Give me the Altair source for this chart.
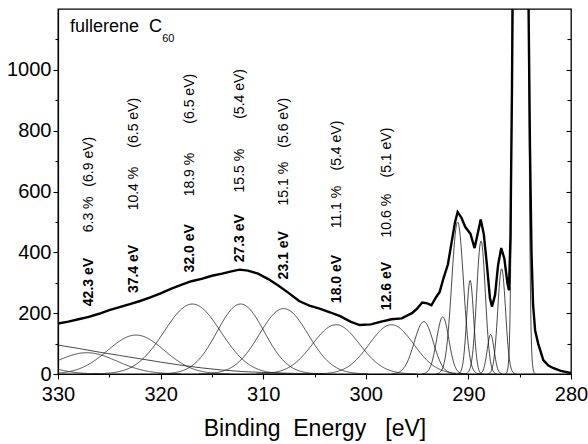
import altair as alt
import numpy as np
import pandas as pd

# ---- measured spectrum (binding energy [eV], counts) ----
spec_be = [330, 329, 328, 327, 326, 325, 324, 323, 322, 321, 320, 319, 318, 317, 316,
           315, 314, 313, 312.3, 311.5, 310.5, 309.5, 308.5, 307.5, 306.5, 305.5, 304.5,
           303.5, 302.5, 301.5, 300.6, 299.5, 298.5, 297.5, 296.5, 295.5, 295.0, 294.5,
           294.0, 293.6, 293.2, 292.8, 292.4, 292.0, 291.6, 291.3, 291.05, 290.7, 290.3,
           289.8, 289.4, 289.1, 288.8, 288.5, 288.2, 287.9, 287.7, 287.4, 287.1, 286.8,
           286.5, 286.2, 286.05, 285.9, 285.75, 285.65, 285.0, 284.3, 284.15, 284.0,
           283.85, 283.7, 283.5, 283.2, 282.7, 282.2, 281.7, 281.0, 280.0]
spec_counts = [166, 172, 180, 188, 198, 210, 220, 230, 240, 252, 265, 280, 293, 305, 313,
               323, 330, 338, 343, 340, 330, 312, 290, 266, 240, 225, 215,
               203, 190, 172, 161, 163, 172, 180, 183, 200, 215, 235,
               232, 226, 250, 270, 318, 360, 440, 500, 532, 515, 483,
               461, 414, 460, 508, 460, 360, 250, 221, 260, 360, 414,
               380, 300, 275, 450, 950, 1400, 3000, 1900, 1250, 750,
               400, 230, 144, 100, 46, 28, 19, 10, 3]

# ---- fitted components: centre [eV], height, FWHM [eV] ----
comp_center = [333.5, 327.2, 322.4, 316.9, 312.2, 308.0, 302.9, 297.5,
               294.35, 292.5, 291.05, 289.83, 288.77, 287.83, 286.76, 284.93]
comp_height = [40, 70, 128, 230, 230, 215, 162, 162,
               172, 188, 500, 308, 437, 130, 346, 30000]
comp_fwhm = [6.0, 6.9, 6.5, 6.5, 5.4, 5.6, 5.4, 5.1,
             2.2, 1.4, 1.35, 0.8, 1.0, 0.8, 0.9, 0.75]

# ---- background tail ----
bg_be = [330, 328, 326, 324, 322, 320, 318, 316, 314, 312, 310, 307, 304]
bg_val = [95, 84, 72, 61, 50, 39, 29, 20, 13, 8, 5, 2, 0.5]

# ---- annotations ----
lab_be = [327.0, 322.6, 317.1, 312.3, 308.0, 302.8, 297.9]
lab_loss = ["42.3 eV", "37.4 eV", "32.0 eV", "27.3 eV", "23.1 eV", "18.0 eV", "12.6 eV"]
lab_pct = ["6.3 %", "10.4 %", "18.9 %", "15.5 %", "15.1 %", "11.1 %", "10.6 %"]
lab_fw = ["(6.9 eV)", "(6.5 eV)", "(6.5 eV)", "(5.4 eV)", "(5.6 eV)", "(5.4 eV)", "(5.1 eV)"]
lab_y_loss = [223, 266, 334, 367, 311, 233, 210]
lab_y_pct = [466, 538, 584, 597, 554, 479, 449]
lab_y_fw = [616, 744, 823, 839, 744, 669, 646]

W, H = 513, 365
FONT = "Liberation Sans"

spec = pd.DataFrame({"be": spec_be, "counts": spec_counts})

grid = np.round(np.arange(280.0, 330.0001, 0.05), 3)
rows = []
for i, (c, h, w) in enumerate(zip(comp_center, comp_height, comp_fwhm)):
    y = h * np.exp(-4 * np.log(2) * (grid - c) ** 2 / w ** 2)
    m = y > 0.5
    for xx, yy in zip(grid[m], y[m]):
        rows.append({"be": float(xx), "counts": float(min(yy, 5000)), "comp": f"c{i}"})
for xx, yy in zip(bg_be, bg_val):
    rows.append({"be": xx, "counts": yy, "comp": "bg"})
comps = pd.DataFrame(rows)

xscale = alt.Scale(domain=[280, 330], reverse=True, nice=False, zero=False)
yscale = alt.Scale(domain=[0, 1200], nice=False, zero=False)

xaxis = alt.Axis(
    values=list(range(280, 331, 5)),
    labelExpr="datum.value % 10 === 0 ? datum.label : ''",
    tickSize={"condition": {"test": "datum.value % 10 === 0", "value": 5}, "value": 3},
    labelFontSize=20, labelPadding=5, labelFlush=False, labelOverlap=False,
    title="Binding\u00a0\u00a0Energy\u00a0\u00a0\u00a0[eV]", titleFontSize=23,
    titleFontWeight="normal", titlePadding=13, format="d",
)
yaxis_left = alt.Axis(
    values=list(range(0, 1101, 100)),
    labelExpr="datum.value % 200 === 0 ? datum.label : ''",
    tickSize={"condition": {"test": "datum.value % 200 === 0", "value": 5}, "value": 3},
    labelFontSize=20, labelPadding=2, labelFlush=False, labelOverlap=False,
    title=None, format="d",
)
yaxis_right = alt.Axis(
    orient="left", offset=-W,
    values=list(range(0, 1101, 100)),
    tickSize={"condition": {"test": "datum.value % 200 === 0", "value": 5}, "value": 4},
    labels=False, domain=False, title=None,
)

X = alt.X("be:Q", scale=xscale, axis=xaxis)

comp_layer = alt.Chart(comps).mark_line(
    color="#1a1a1a", strokeWidth=0.8, clip=True
).encode(
    x=X,
    y=alt.Y("counts:Q", scale=yscale, axis=yaxis_left),
    detail="comp:N",
)

spec_layer = alt.Chart(spec).mark_line(
    color="black", strokeWidth=2.4, clip=True
).encode(
    x=X,
    y=alt.Y("counts:Q", scale=yscale, axis=yaxis_right),
)

labs = pd.DataFrame({
    "be": lab_be, "loss": lab_loss, "pct": lab_pct, "fw": lab_fw,
    "yl": lab_y_loss, "yp": lab_y_pct, "yf": lab_y_fw,
})

def vtext(field, yfield, bold, size):
    return alt.Chart(labs).mark_text(
        angle=270, align="left", baseline="middle", font=FONT,
        fontSize=size, fontWeight="bold" if bold else "normal", color="black",
    ).encode(
        x=X,
        y=alt.Y(f"{yfield}:Q", scale=yscale, axis=None),
        text=f"{field}:N",
    )

t_loss = vtext("loss", "yl", True, 14)
t_pct = vtext("pct", "yp", False, 14)
t_fw = vtext("fw", "yf", False, 14)

title_df = pd.DataFrame({"be": [328.83], "y": [1125], "t": ["fullerene\u00a0\u00a0C"]})
sub_df = pd.DataFrame({"be": [319.85], "y": [1090], "t": ["60"]})
t_title = alt.Chart(title_df).mark_text(
    align="left", baseline="alphabetic", font=FONT, fontSize=18, color="black"
).encode(
    x=X,
    y=alt.Y("y:Q", scale=yscale, axis=None),
    text="t:N",
)
t_sub = alt.Chart(sub_df).mark_text(
    align="left", baseline="alphabetic", font=FONT, fontSize=11, color="black"
).encode(
    x=X,
    y=alt.Y("y:Q", scale=yscale, axis=None),
    text="t:N",
)

chart = alt.layer(
    comp_layer, spec_layer, t_loss, t_pct, t_fw, t_title, t_sub
).resolve_axis(
    y="independent"
).properties(
    width=W, height=H,
    padding={"left": 58, "top": 9, "right": 17, "bottom": 70},
    autosize=alt.AutoSizeParams(type="none"),
    background="white",
).configure_view(
    stroke="black", strokeWidth=1.3
).configure_axis(
    labelFont=FONT, titleFont=FONT, labelColor="black", titleColor="black",
    domainColor="black", tickColor="black", grid=False, domainWidth=1.2, tickWidth=1.1,
)

chart.save("out.html", embed_options={"renderer": "svg", "actions": False})
